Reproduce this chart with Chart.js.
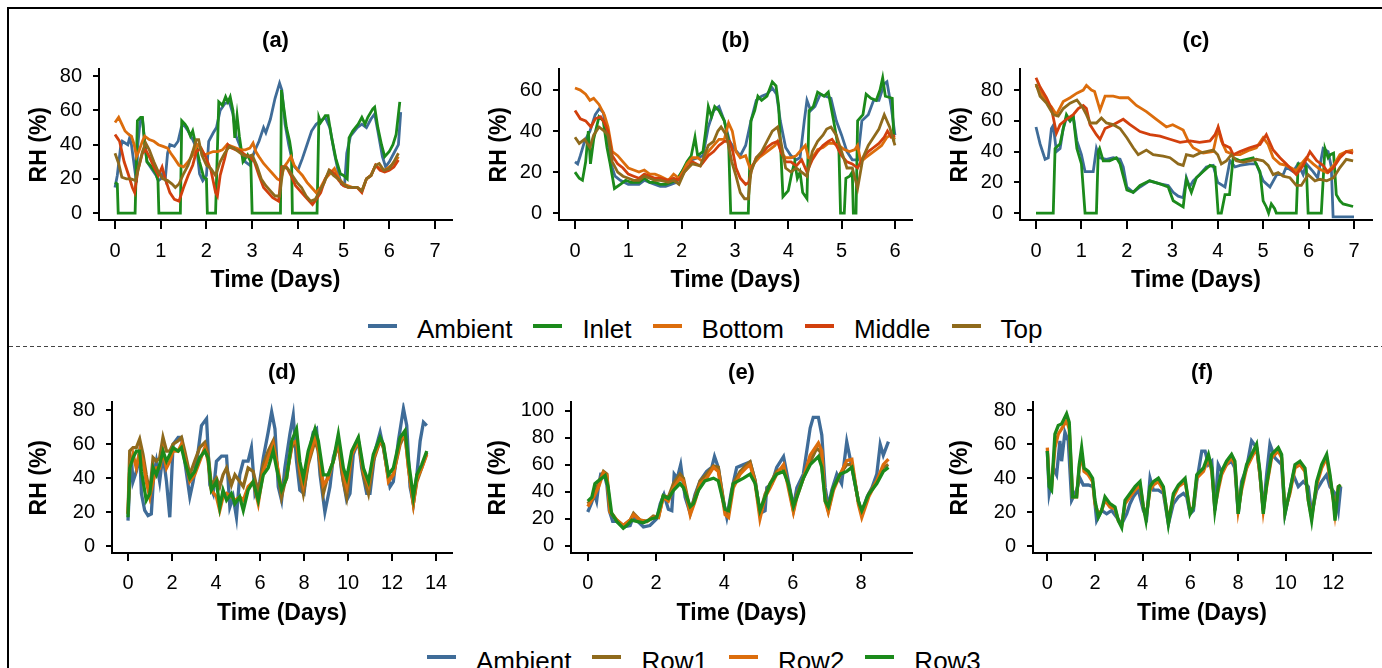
<!DOCTYPE html>
<html>
<head>
<meta charset="utf-8">
<script src="https://cdn.jsdelivr.net/npm/chart.js@4.4.1/dist/chart.umd.min.js"></script>
<style>
  html, body { margin: 0; padding: 0; background: #fff; overflow: hidden; }
  body { width: 1382px; height: 668px; position: relative; font-family: "Liberation Sans", Arial, sans-serif; }
  .frame { position: absolute; left: 7px; top: 7px; width: 1400px; height: 700px; border-left: 2px solid #000; border-top: 2px solid #000; }
  .sep { position: absolute; left: 9px; top: 346px; width: 1373px; height: 1px;
         background: repeating-linear-gradient(to right, #444 0 4px, transparent 4px 7px); }
  .panel { position: absolute; }
  .legend { position: absolute; display: flex; align-items: center; height: 30px; line-height: 30px; font-size: 26px; color: #000; white-space: nowrap; }
  .legend .item { display: flex; align-items: center; margin-right: 21px; }
  .legend .swatch { display: inline-block; width: 29px; height: 4px; margin-right: 20px; position: relative; }
</style>
</head>
<body>
<div class="frame"></div>
<div class="sep"></div>
<div class="panel" id="pa"><canvas></canvas></div>
<div class="panel" id="pb"><canvas></canvas></div>
<div class="panel" id="pc"><canvas></canvas></div>
<div class="panel" id="pd"><canvas></canvas></div>
<div class="panel" id="pe"><canvas></canvas></div>
<div class="panel" id="pf"><canvas></canvas></div>
<div class="legend" id="legendTop"></div>
<div class="legend" id="legendBottom"></div>

<script>
// serienamn
const topNames = ["Ambient", "Inlet", "Bottom", "Middle", "Top"];
const bottomNames = ["Ambient", "Row1", "Row2", "Row3"];

// axelmarkeringar
const xTicksA = [0, 1, 2, 3, 4, 5, 6, 7];
const yTicksA = [0, 20, 40, 60, 80];
const xTicksB = [0, 1, 2, 3, 4, 5, 6];
const yTicksB = [0, 20, 40, 60];
const xTicksC = [0, 1, 2, 3, 4, 5, 6, 7];
const yTicksC = [0, 20, 40, 60, 80];
const xTicksD = [0, 2, 4, 6, 8, 10, 12, 14];
const yTicksD = [0, 20, 40, 60, 80];
const xTicksE = [0, 2, 4, 6, 8];
const yTicksE = [0, 20, 40, 60, 80, 100];
const xTicksF = [0, 2, 4, 6, 8, 10, 12];
const yTicksF = [0, 20, 40, 60, 80];

// (a) [dag, RH]
const aAmbient = [[0,15],[0.05,22],[0.12,38],[0.16,42],[0.22,41],[0.28,40],[0.32,44],[0.36,40],[0.42,28],[0.47,18],[0.5,40],[0.55,54],[0.6,55],[0.65,42],[0.7,30],[0.8,26],[0.9,22],[0.95,19],[1.0,20],[1.05,24],[1.1,20],[1.15,35],[1.2,40],[1.3,39],[1.38,42],[1.45,50],[1.5,52],[1.6,48],[1.7,43],[1.75,40],[1.8,35],[1.85,23],[1.92,19],[2.0,22],[2.05,42],[2.15,47],[2.22,50],[2.3,60],[2.4,64],[2.5,65],[2.58,58],[2.65,45],[2.75,38],[2.85,30],[2.95,28],[3.05,36],[3.15,42],[3.25,50],[3.3,47],[3.4,55],[3.5,67],[3.6,76],[3.65,72],[3.72,52],[3.8,40],[3.9,28],[4.0,25],[4.1,32],[4.2,40],[4.3,48],[4.4,52],[4.5,54],[4.6,56],[4.7,50],[4.8,35],[4.9,22],[4.95,17],[5.02,16],[5.07,35],[5.15,45],[5.3,50],[5.4,52],[5.5,50],[5.6,55],[5.68,58],[5.75,48],[5.85,33],[5.92,27],[6.0,30],[6.1,35],[6.2,40],[6.25,59]];
const aInlet = [[0,18],[0.05,17],[0.07,0],[0.44,0],[0.49,54],[0.56,56],[0.6,56],[0.65,40],[0.7,30],[0.8,27],[0.9,23],[0.94,19],[0.96,0],[1.43,0],[1.46,54],[1.53,52],[1.58,50],[1.65,45],[1.7,48],[1.75,42],[1.85,30],[1.94,21],[2.0,20],[2.02,0],[2.2,0],[2.27,65],[2.35,63],[2.42,68],[2.47,65],[2.52,68],[2.58,60],[2.62,44],[2.67,57],[2.72,45],[2.8,30],[2.9,34],[2.97,30],[3.0,0],[3.62,0],[3.64,72],[3.7,60],[3.75,50],[3.82,42],[3.86,35],[3.88,0],[4.42,0],[4.46,56],[4.5,53],[4.6,57],[4.66,57],[4.74,44],[4.83,32],[4.93,23],[5.0,22],[5.08,20],[5.12,44],[5.2,48],[5.32,52],[5.4,56],[5.47,52],[5.53,56],[5.64,61],[5.68,62],[5.75,50],[5.83,40],[5.9,33],[6.0,36],[6.08,40],[6.15,46],[6.23,65]];
const aBottom = [[0,53],[0.08,56],[0.15,52],[0.22,48],[0.3,46],[0.36,45],[0.42,40],[0.47,33],[0.52,36],[0.6,42],[0.65,45],[0.75,43],[0.85,42],[0.95,40],[1.05,39],[1.15,38],[1.22,35],[1.3,32],[1.4,28],[1.5,27],[1.6,30],[1.7,34],[1.8,40],[1.88,38],[1.95,34],[2.05,35],[2.15,36],[2.25,36],[2.35,37],[2.45,40],[2.55,39],[2.65,38],[2.75,37],[2.85,37],[2.95,38],[3.02,41],[3.08,36],[3.15,33],[3.25,29],[3.35,26],[3.45,23],[3.55,20],[3.62,19],[3.7,27],[3.78,30],[3.85,33],[3.92,28],[4.0,25],[4.1,22],[4.2,18],[4.3,15],[4.4,12],[4.5,15],[4.6,20],[4.7,23],[4.8,26],[4.9,20],[5.0,17],[5.1,16],[5.2,15],[5.3,15],[5.4,13],[5.5,20],[5.6,22],[5.7,28],[5.8,26],[5.9,25],[6.0,27],[6.1,29],[6.2,33]];
const aMiddle = [[0,46],[0.05,44],[0.1,42],[0.2,30],[0.3,22],[0.38,15],[0.43,12],[0.5,25],[0.6,35],[0.67,37],[0.75,33],[0.85,27],[0.95,22],[1.03,27],[1.1,20],[1.2,12],[1.3,8],[1.4,7],[1.5,15],[1.6,22],[1.7,28],[1.78,36],[1.88,38],[1.98,33],[2.1,25],[2.2,12],[2.24,10],[2.3,22],[2.4,32],[2.47,40],[2.55,38],[2.65,37],[2.75,36],[2.85,34],[2.95,33],[3.05,30],[3.15,22],[3.25,15],[3.35,12],[3.45,9],[3.58,7],[3.65,27],[3.75,27],[3.85,22],[3.95,16],[4.05,13],[4.15,10],[4.25,7],[4.32,5],[4.4,8],[4.5,12],[4.6,20],[4.7,25],[4.8,23],[4.9,19],[5.0,16],[5.1,15],[5.2,15],[5.3,15],[5.4,12],[5.5,20],[5.6,22],[5.7,28],[5.8,25],[5.9,24],[6.0,25],[6.1,27],[6.2,31]];
const aTop = [[0,35],[0.08,29],[0.15,21],[0.25,20],[0.35,20],[0.45,19],[0.52,27],[0.6,36],[0.67,41],[0.75,37],[0.85,30],[0.95,24],[1.05,20],[1.15,19],[1.25,17],[1.32,15],[1.4,17],[1.5,23],[1.6,28],[1.7,36],[1.78,43],[1.83,43],[1.9,34],[2.0,28],[2.1,26],[2.2,22],[2.3,30],[2.4,35],[2.5,39],[2.6,38],[2.7,36],[2.8,34],[2.9,33],[3.0,34],[3.1,28],[3.2,20],[3.3,16],[3.4,13],[3.5,10],[3.6,10],[3.68,27],[3.78,26],[3.88,22],[3.98,18],[4.08,15],[4.18,10],[4.28,7],[4.38,8],[4.48,13],[4.58,18],[4.68,25],[4.78,22],[4.88,20],[5.0,17],[5.1,15],[5.2,15],[5.3,15],[5.4,13],[5.5,20],[5.6,22],[5.7,28],[5.78,29],[5.88,25],[6.0,26],[6.1,30],[6.2,35]];

// (b)
const bAmbient = [[0,25],[0.05,24],[0.1,28],[0.18,35],[0.28,40],[0.38,48],[0.46,51],[0.53,49],[0.6,38],[0.7,22],[0.75,18],[0.85,16],[1.0,14],[1.1,14],[1.2,14],[1.3,16],[1.4,15],[1.5,14],[1.6,13],[1.7,13],[1.8,14],[1.9,15],[2.0,20],[2.1,24],[2.2,26],[2.3,27],[2.4,28],[2.45,35],[2.5,42],[2.6,50],[2.7,52],[2.8,45],[2.9,35],[3.0,31],[3.1,28],[3.2,33],[3.3,45],[3.4,55],[3.5,57],[3.6,58],[3.7,61],[3.78,58],[3.85,45],[3.95,32],[4.05,28],[4.15,26],[4.22,27],[4.3,45],[4.35,55],[4.42,50],[4.5,52],[4.6,58],[4.7,57],[4.8,56],[4.9,45],[5.0,38],[5.1,30],[5.2,26],[5.3,26],[5.38,45],[5.5,48],[5.6,55],[5.7,55],[5.8,63],[5.85,64],[5.93,52],[6.0,38]];
const bInlet = [[0,20],[0.08,17],[0.14,16],[0.2,25],[0.25,40],[0.29,24],[0.35,36],[0.45,47],[0.53,45],[0.6,32],[0.66,24],[0.74,12],[0.85,14],[0.95,16],[1.05,15],[1.2,15],[1.3,17],[1.4,15],[1.5,15],[1.6,14],[1.7,14],[1.8,15],[1.9,16],[2.0,20],[2.1,25],[2.18,28],[2.25,37],[2.3,28],[2.4,30],[2.45,40],[2.5,52],[2.56,47],[2.62,52],[2.7,50],[2.8,45],[2.88,35],[2.92,0],[3.25,0],[3.3,45],[3.37,50],[3.43,57],[3.5,55],[3.6,57],[3.7,64],[3.77,62],[3.82,52],[3.86,30],[3.9,8],[4.0,11],[4.07,20],[4.12,25],[4.17,17],[4.22,20],[4.27,10],[4.35,7],[4.39,50],[4.47,52],[4.55,59],[4.67,57],[4.75,59],[4.85,45],[4.95,30],[4.98,0],[5.05,0],[5.08,17],[5.15,18],[5.2,20],[5.22,0],[5.27,0],[5.3,45],[5.4,48],[5.46,58],[5.55,56],[5.65,55],[5.72,60],[5.77,66],[5.82,57],[5.95,56],[5.98,35]];
const bBottom = [[0,61],[0.1,60],[0.2,58],[0.28,55],[0.35,56],[0.45,53],[0.55,48],[0.62,42],[0.7,30],[0.8,28],[0.9,25],[1.0,22],[1.1,21],[1.2,20],[1.3,21],[1.4,19],[1.5,19],[1.6,18],[1.75,16],[1.85,19],[1.95,17],[2.02,20],[2.1,24],[2.2,27],[2.3,27],[2.4,25],[2.5,30],[2.6,33],[2.7,36],[2.8,36],[2.88,44],[2.95,40],[3.02,30],[3.1,27],[3.2,28],[3.28,22],[3.35,24],[3.45,27],[3.55,29],[3.65,31],[3.75,33],[3.8,35],[3.88,29],[3.95,27],[4.05,27],[4.15,28],[4.25,31],[4.32,33],[4.38,27],[4.45,27],[4.55,31],[4.65,32],[4.75,34],[4.85,34],[4.95,33],[5.05,31],[5.15,30],[5.25,31],[5.3,33],[5.36,25],[5.45,27],[5.55,29],[5.65,31],[5.75,33],[5.85,37],[5.92,38],[6.0,36]];
const bMiddle = [[0,50],[0.1,46],[0.2,45],[0.3,42],[0.38,46],[0.48,47],[0.55,44],[0.62,40],[0.7,28],[0.8,24],[0.9,22],[1.0,19],[1.1,18],[1.2,17],[1.3,19],[1.4,18],[1.5,17],[1.6,17],[1.75,16],[1.85,17],[1.95,16],[2.05,20],[2.2,25],[2.35,23],[2.5,28],[2.6,30],[2.7,33],[2.8,35],[2.9,35],[2.96,30],[3.02,22],[3.1,17],[3.2,14],[3.26,15],[3.32,22],[3.4,27],[3.5,29],[3.6,32],[3.7,34],[3.8,35],[3.86,30],[3.95,25],[4.05,25],[4.15,23],[4.25,26],[4.35,20],[4.45,26],[4.55,30],[4.65,33],[4.75,35],[4.82,36],[4.9,33],[5.0,28],[5.1,25],[5.2,24],[5.3,22],[5.4,27],[5.5,30],[5.6,32],[5.7,34],[5.8,37],[5.86,40],[5.93,37],[6.0,38]];
const bTop = [[0,37],[0.08,34],[0.18,36],[0.28,32],[0.35,38],[0.45,42],[0.55,40],[0.62,38],[0.7,25],[0.8,20],[0.9,18],[1.0,17],[1.1,16],[1.2,16],[1.3,18],[1.4,17],[1.5,16],[1.6,16],[1.75,15],[1.85,16],[1.95,14],[2.05,20],[2.2,24],[2.35,23],[2.5,33],[2.6,35],[2.68,40],[2.74,42],[2.84,38],[2.94,25],[3.02,18],[3.1,10],[3.18,7],[3.25,7],[3.3,20],[3.4,27],[3.5,30],[3.6,35],[3.7,40],[3.8,42],[3.86,35],[3.95,22],[4.05,20],[4.15,22],[4.25,20],[4.35,18],[4.45,30],[4.55,35],[4.65,38],[4.72,41],[4.8,42],[4.9,38],[5.0,30],[5.1,22],[5.2,22],[5.3,12],[5.4,27],[5.5,33],[5.6,37],[5.7,41],[5.8,48],[5.9,42],[6.0,33]];

// (c)
const cAmbient = [[0,56],[0.09,45],[0.2,35],[0.27,36],[0.34,55],[0.38,57],[0.45,40],[0.53,42],[0.6,55],[0.67,62],[0.75,60],[0.82,63],[0.9,47],[1.0,38],[1.08,27],[1.26,27],[1.33,42],[1.4,36],[1.55,35],[1.7,36],[1.85,35],[1.92,30],[2.0,17],[2.14,13.5],[2.29,17],[2.5,21],[2.73,19],[2.91,18],[3.02,13.5],[3.13,11],[3.24,10],[3.31,23],[3.38,17],[3.46,21],[3.6,25],[3.75,30],[3.9,31],[4.0,20],[4.16,17],[4.27,34],[4.38,30],[4.49,31],[4.7,32],[4.85,32],[5.0,21],[5.15,17],[5.3,25],[5.44,25],[5.51,30],[5.66,27],[5.77,32],[5.88,25],[5.95,32],[6.1,27],[6.2,23],[6.32,42],[6.43,40],[6.5,30],[6.54,-2.5],[7.0,-2.5]];
const cInlet = [[0,0],[0.38,0],[0.42,42],[0.53,45],[0.6,55],[0.67,64],[0.75,60],[0.82,63],[0.9,42],[1.0,32],[1.08,0],[1.33,0],[1.37,40],[1.4,42],[1.48,34],[1.62,34],[1.77,36],[1.85,32],[2.0,15],[2.14,13.5],[2.29,18],[2.5,21],[2.73,19],[2.91,17],[3.02,8],[3.24,4],[3.31,22],[3.42,13.5],[3.53,23],[3.68,27],[3.83,31],[3.94,30],[4.01,0],[4.08,0],[4.16,12],[4.26,12],[4.34,36],[4.49,34],[4.78,36],[4.93,27],[5.0,8],[5.07,4],[5.12,0],[5.18,6],[5.25,3],[5.29,0],[5.73,0],[5.77,32],[5.88,32],[5.95,30],[5.99,0],[6.28,0],[6.36,42],[6.43,36],[6.48,38],[6.55,39],[6.61,12],[6.69,8],[6.76,6],[6.98,4.3]];
const cBottom = [[0,83],[0.09,79],[0.23,72.5],[0.34,69],[0.45,64],[0.6,72.5],[0.75,75],[0.9,78],[1.04,80],[1.11,83],[1.22,80],[1.29,79],[1.41,67],[1.52,76],[1.7,76],[1.85,75],[2.03,75],[2.21,70],[2.43,66],[2.65,61],[2.87,56],[3.01,57.5],[3.24,54],[3.35,47],[3.46,42.5],[3.68,39],[3.9,40],[4.01,55],[4.08,47],[4.19,40],[4.34,38],[4.49,38],[4.7,41],[4.85,42.5],[5.0,49],[5.11,44.6],[5.22,36],[5.37,32],[5.51,31],[5.73,27.5],[5.84,32],[5.95,36],[6.1,32],[6.25,28.5],[6.4,26.4],[6.55,31],[6.69,38],[6.83,40],[6.98,41]];
const cMiddle = [[0,88],[0.09,82],[0.23,75],[0.34,68],[0.45,52],[0.53,57.5],[0.67,61],[0.82,64],[0.93,68],[1.04,70],[1.11,68],[1.19,57.5],[1.33,51],[1.41,48],[1.52,55],[1.7,57.5],[1.92,61],[2.07,57.5],[2.29,53],[2.51,51],[2.73,50],[2.95,48],[3.17,46],[3.39,47],[3.6,46],[3.83,47],[3.94,51],[4.01,56],[4.12,44.6],[4.27,42.5],[4.34,38],[4.49,40],[4.7,42.5],[4.93,44.6],[5.07,51],[5.22,41],[5.37,36],[5.51,32],[5.73,25],[5.88,31],[6.03,40],[6.18,34],[6.32,31],[6.43,26.4],[6.55,29.6],[6.69,36],[6.83,40],[6.98,39]];
const cTop = [[0,84],[0.09,76],[0.23,71.5],[0.38,64],[0.49,63],[0.6,68],[0.75,71.5],[0.9,73.6],[1.04,68],[1.11,64],[1.19,58.6],[1.33,58.6],[1.44,61.8],[1.55,58.6],[1.7,57.5],[1.85,55],[2.0,49],[2.14,42.5],[2.25,38],[2.43,41],[2.58,38],[2.8,37],[2.95,36],[3.13,32],[3.24,31],[3.31,38],[3.46,37],[3.6,39],[3.75,40],[3.9,41],[4.0,38],[4.08,32],[4.19,34],[4.3,38],[4.41,34],[4.56,33],[4.7,34],[4.85,35],[5.0,34],[5.11,31],[5.22,25],[5.33,26.4],[5.44,24],[5.59,23],[5.73,18],[5.84,18],[5.99,25],[6.14,21],[6.25,22],[6.4,21],[6.55,23],[6.69,29.6],[6.83,35],[6.98,34]];

// (d)
const dAmbient = [[0,15],[0.08,38],[0.15,52],[0.23,38],[0.38,44],[0.53,56],[0.61,31],[0.76,21],[0.91,18],[1.06,19],[1.17,42],[1.29,50],[1.44,38],[1.59,54],[1.75,38],[1.9,17],[2.05,60],[2.28,64],[2.43,64],[2.58,50],[2.81,29],[2.96,38],[3.19,56],[3.34,71],[3.57,75],[3.72,36],[3.87,31],[4.02,50],[4.25,53],[4.48,53],[4.63,23],[4.78,29],[4.93,17],[5.08,42],[5.24,50],[5.46,50],[5.61,58],[5.77,31],[5.99,38],[6.15,52],[6.37,67],[6.53,79],[6.68,69],[6.83,35],[6.98,27],[7.13,46],[7.36,66],[7.51,77],[7.66,50],[7.81,33],[8.0,31],[8.19,52],[8.42,67],[8.57,69],[8.73,42],[8.95,20],[9.18,35],[9.33,52],[9.56,62],[9.71,44],[9.94,27],[10.09,31],[10.24,54],[10.47,62],[10.62,46],[10.85,31],[11.0,31],[11.23,56],[11.46,67],[11.61,58],[11.91,35],[12.06,38],[12.29,62],[12.52,81],[12.67,71],[12.82,35],[12.97,25],[13.13,42],[13.28,62],[13.43,73],[13.58,71]];
const dRow1 = [[0,19],[0.08,56],[0.23,58],[0.38,58],[0.53,63],[0.68,54],[0.83,42],[0.99,31],[1.14,52],[1.29,50],[1.44,52],[1.59,64],[1.75,56],[1.9,56],[2.05,60],[2.28,62],[2.43,64],[2.58,56],[2.81,42],[3.03,50],[3.26,58],[3.49,61],[3.64,54],[3.79,36],[4.02,40],[4.17,35],[4.32,42],[4.48,46],[4.7,36],[4.86,42],[5.08,38],[5.24,35],[5.46,46],[5.69,44],[5.92,31],[6.15,48],[6.37,56],[6.6,62],[6.75,50],[6.98,29],[7.21,42],[7.44,58],[7.66,62],[7.81,42],[7.97,31],[8.19,48],[8.5,62],[8.65,56],[8.88,31],[9.1,42],[9.33,50],[9.56,60],[9.79,38],[9.94,29],[10.17,54],[10.47,62],[10.7,42],[10.93,31],[11.15,50],[11.46,62],[11.61,58],[11.84,40],[12.06,42],[12.37,60],[12.59,66],[12.75,46],[12.97,25],[13.13,38],[13.35,46],[13.58,55]];
const dRow2 = [[0,19],[0.08,46],[0.23,54],[0.38,46],[0.53,56],[0.68,50],[0.83,38],[0.99,29],[1.14,38],[1.29,46],[1.44,46],[1.59,56],[1.75,46],[1.9,50],[2.05,56],[2.28,56],[2.43,60],[2.58,52],[2.81,38],[3.03,42],[3.26,50],[3.49,58],[3.64,50],[3.79,33],[4.02,29],[4.17,21],[4.32,29],[4.48,31],[4.7,29],[4.86,27],[5.08,29],[5.24,27],[5.46,35],[5.69,38],[5.92,25],[6.15,44],[6.37,52],[6.6,60],[6.75,50],[6.98,33],[7.21,40],[7.44,60],[7.66,62],[7.81,46],[7.97,36],[8.19,50],[8.5,64],[8.65,58],[8.88,36],[9.1,40],[9.33,50],[9.56,62],[9.79,42],[9.94,35],[10.17,54],[10.47,62],[10.7,44],[10.93,36],[11.15,52],[11.46,62],[11.61,60],[11.84,38],[12.06,42],[12.37,62],[12.59,66],[12.75,46],[12.97,25],[13.13,40],[13.35,46],[13.58,54]];
const dRow3 = [[0,17],[0.08,46],[0.23,52],[0.38,56],[0.53,56],[0.61,44],[0.83,27],[0.99,31],[1.14,46],[1.29,42],[1.44,48],[1.59,56],[1.75,50],[1.9,54],[2.05,58],[2.28,56],[2.43,58],[2.58,50],[2.81,40],[3.03,44],[3.26,52],[3.49,56],[3.64,52],[3.79,33],[4.02,38],[4.17,23],[4.32,33],[4.48,27],[4.7,31],[4.86,25],[5.08,29],[5.24,21],[5.46,33],[5.69,38],[5.92,27],[6.15,42],[6.37,46],[6.6,56],[6.75,46],[6.98,33],[7.21,40],[7.44,62],[7.66,69],[7.81,50],[7.97,40],[8.19,56],[8.5,69],[8.65,62],[8.88,42],[9.1,42],[9.33,50],[9.56,66],[9.79,46],[9.94,40],[10.17,56],[10.47,64],[10.7,46],[10.93,38],[11.15,54],[11.46,64],[11.61,60],[11.84,42],[12.06,46],[12.37,64],[12.59,68],[12.75,50],[12.97,29],[13.13,42],[13.35,48],[13.58,56]];

// (e)
const eAmbient = [[0,25],[0.1,31],[0.2,38],[0.26,33],[0.31,43],[0.38,53],[0.48,53],[0.56,45],[0.63,26],[0.73,18],[0.85,18],[1.04,14],[1.24,15],[1.34,22],[1.43,19],[1.63,14],[1.82,15],[2.02,20],[2.12,31],[2.23,38],[2.36,27],[2.46,26],[2.53,53],[2.62,50],[2.72,60],[2.85,36],[3.0,24],[3.14,38],[3.29,48],[3.48,55],[3.63,58],[3.71,66],[3.82,58],[3.97,33],[4.07,21],[4.21,41],[4.36,58],[4.56,60],[4.75,62],[4.9,48],[5.04,24],[5.19,26],[5.24,43],[5.39,46],[5.53,58],[5.73,66],[5.87,48],[6.02,29],[6.12,43],[6.31,53],[6.51,87],[6.6,95],[6.75,95],[6.85,82],[6.95,43],[7.04,29],[7.14,41],[7.29,53],[7.43,46],[7.58,77],[7.73,58],[7.92,33],[8.02,24],[8.17,36],[8.32,43],[8.46,53],[8.56,75],[8.65,67],[8.8,77]];
const eRow1 = [[0,31],[0.17,36],[0.31,46],[0.46,55],[0.56,53],[0.65,26],[0.85,19],[1.04,15],[1.24,19],[1.34,24],[1.53,19],[1.73,18],[1.92,22],[2.07,21],[2.21,37],[2.36,36],[2.51,46],[2.7,53],[2.8,50],[3.0,26],[3.14,36],[3.29,48],[3.48,53],[3.68,59],[3.82,58],[4.02,26],[4.12,24],[4.26,46],[4.46,55],[4.65,60],[4.75,62],[4.9,48],[5.04,24],[5.19,38],[5.34,46],[5.53,55],[5.73,58],[5.87,46],[6.02,26],[6.12,38],[6.31,50],[6.51,62],[6.7,72],[6.8,70],[6.95,36],[7.04,26],[7.19,43],[7.39,53],[7.58,60],[7.73,60],[7.92,33],[8.02,24],[8.22,38],[8.46,48],[8.65,58],[8.8,60]];
const eRow2 = [[0,29],[0.17,36],[0.31,43],[0.46,54],[0.56,52],[0.65,25],[0.85,19],[1.04,15],[1.24,19],[1.34,23],[1.53,19],[1.73,18],[1.92,21],[2.07,21],[2.21,36],[2.36,33],[2.51,43],[2.7,50],[2.8,48],[3.0,23],[3.14,33],[3.29,46],[3.48,50],[3.68,58],[3.82,55],[4.02,23],[4.12,21],[4.26,43],[4.46,53],[4.65,58],[4.75,60],[4.9,46],[5.04,20],[5.19,36],[5.34,43],[5.53,53],[5.73,60],[5.87,43],[6.02,25],[6.12,36],[6.31,50],[6.51,67],[6.75,76],[6.85,70],[6.95,33],[7.04,25],[7.19,41],[7.39,53],[7.58,63],[7.73,64],[7.92,31],[8.02,21],[8.22,36],[8.46,48],[8.65,60],[8.8,64]];
const eRow3 = [[0,33],[0.12,36],[0.21,46],[0.31,48],[0.41,50],[0.51,52],[0.6,43],[0.7,24],[0.85,18],[1.04,13],[1.14,15],[1.29,19],[1.43,18],[1.63,17],[1.87,20],[2.02,21],[2.12,29],[2.21,37],[2.36,35],[2.51,41],[2.7,46],[2.8,43],[3.0,29],[3.09,31],[3.24,41],[3.43,48],[3.68,50],[3.82,48],[4.02,27],[4.12,26],[4.26,46],[4.56,50],[4.75,53],[4.9,46],[5.04,26],[5.19,36],[5.34,46],[5.53,53],[5.73,55],[5.87,46],[6.02,29],[6.12,36],[6.31,50],[6.51,60],[6.75,66],[6.85,58],[6.95,33],[7.04,29],[7.19,43],[7.39,53],[7.58,55],[7.73,58],[7.92,33],[8.02,26],[8.22,38],[8.46,46],[8.65,55],[8.8,58]];

// (f)
const fAmbient = [[0,56],[0.08,31],[0.18,38],[0.25,46],[0.39,42],[0.53,62],[0.6,50],[0.74,67],[0.88,62],[1.02,27],[1.23,33],[1.37,40],[1.51,36],[1.72,36],[1.93,35],[2.07,15],[2.28,21],[2.49,19],[2.7,21],[2.91,17],[3.12,13],[3.33,19],[3.47,25],[3.61,29],[3.82,33],[4.03,21],[4.17,17],[4.31,40],[4.45,33],[4.66,33],[4.87,31],[5.08,13],[5.29,25],[5.5,29],[5.71,31],[5.85,29],[5.99,19],[6.13,21],[6.27,38],[6.48,56],[6.62,56],[6.76,48],[6.9,50],[7.03,21],[7.17,48],[7.31,44],[7.52,48],[7.73,50],[7.87,46],[8.01,19],[8.15,38],[8.36,46],[8.57,62],[8.78,58],[8.92,42],[9.06,21],[9.2,42],[9.34,60],[9.55,52],[9.83,48],[9.97,19],[10.18,33],[10.32,42],[10.53,35],[10.74,38],[10.95,35],[11.09,19],[11.3,33],[11.51,38],[11.72,42],[11.86,35],[12.07,31],[12.21,21],[12.31,35]];
const fRow2 = [[0,58],[0.08,38],[0.18,35],[0.32,58],[0.46,66],[0.6,69],[0.81,74],[0.92,69],[1.06,29],[1.23,29],[1.34,46],[1.44,54],[1.54,44],[1.72,42],[1.9,38],[2.0,25],[2.14,19],[2.28,21],[2.42,27],[2.63,23],[2.84,22],[2.98,15],[3.12,12],[3.26,25],[3.47,29],[3.68,33],[3.89,36],[4.03,23],[4.14,17],[4.31,33],[4.45,36],[4.66,38],[4.87,33],[5.08,15],[5.29,29],[5.5,35],[5.78,38],[5.99,21],[6.13,23],[6.27,40],[6.55,44],[6.76,52],[6.9,44],[7.03,23],[7.17,33],[7.31,42],[7.52,48],[7.73,52],[7.87,48],[8.01,21],[8.15,33],[8.36,46],[8.57,52],[8.78,58],[8.92,42],[9.06,21],[9.2,35],[9.41,52],[9.69,56],[9.83,52],[9.97,21],[10.18,31],[10.39,46],[10.6,48],[10.81,44],[10.95,27],[11.09,17],[11.3,36],[11.51,46],[11.72,52],[11.86,40],[12.0,27],[12.07,19],[12.21,35],[12.31,36]];
const fRow3 = [[0,56],[0.08,35],[0.18,33],[0.32,66],[0.46,71],[0.6,72],[0.81,78],[0.92,73],[1.06,29],[1.23,29],[1.34,48],[1.44,58],[1.54,46],[1.72,44],[1.9,40],[2.0,27],[2.14,17],[2.28,21],[2.42,29],[2.63,25],[2.84,23],[2.98,15],[3.12,11],[3.26,27],[3.47,31],[3.68,35],[3.89,38],[4.03,23],[4.14,15],[4.31,35],[4.45,38],[4.66,40],[4.87,35],[5.08,13],[5.29,31],[5.5,36],[5.78,40],[5.99,19],[6.13,23],[6.27,42],[6.55,46],[6.76,54],[6.9,46],[7.03,21],[7.17,35],[7.31,44],[7.52,50],[7.73,54],[7.87,50],[8.01,19],[8.15,35],[8.36,48],[8.57,54],[8.78,60],[8.92,44],[9.06,19],[9.2,36],[9.41,54],[9.69,58],[9.83,54],[9.97,19],[10.18,33],[10.39,48],[10.6,50],[10.81,46],[10.95,27],[11.09,15],[11.3,38],[11.51,48],[11.72,54],[11.86,42],[12.0,27],[12.07,15],[12.21,35],[12.31,36]];

const FONT = '"Liberation Sans", Arial, sans-serif';
const colors = {
  Ambient: "#3f6c98", Inlet: "#1b8a1b", Bottom: "#dc6d0c", Middle: "#d2400d", Top: "#8f6a1c",
  Row1: "#8f6a1c", Row2: "#dc6d0c", Row3: "#1b8a1b",
};

Chart.defaults.font.family = FONT;
Chart.defaults.color = "#000";

// layout för varje panelrad (pixlar)
const topRow = { top: 10, height: 300, yW: 89, xH: 90, titleTop: 18, titleBottom: 15, xTitleBottom: 15.2, tickLen: 9, lw: 2.8 };
const bottomRow = { top: 350, height: 290, yW: 102, xH: 87, titleTop: 10, titleBottom: 16, xTitleBottom: 12.2, tickLen: 8, lw: 3.3 };

const panels = [
  { id: "pa", title: "(a)", row: topRow, left: 10, width: 450, xMin: -0.35, xMax: 7.372, yMin: -4.03, yMax: 84.03,
    xTicks: xTicksA, yTicks: yTicksA, names: topNames, series: [aAmbient, aInlet, aBottom, aMiddle, aTop] },
  { id: "pb", title: "(b)", row: topRow, left: 470, width: 450, xMin: -0.3, xMax: 6.32, yMin: -3.36, yMax: 70.08,
    xTicks: xTicksB, yTicks: yTicksB, names: topNames, series: [bAmbient, bInlet, bBottom, bMiddle, bTop] },
  { id: "pc", title: "(c)", row: topRow, left: 931, width: 449, xMin: -0.352, xMax: 7.396, yMin: -4.48, yMax: 93.44,
    xTicks: xTicksC, yTicks: yTicksC, names: topNames, series: [cAmbient, cInlet, cBottom, cMiddle, cTop] },
  { id: "pd", title: "(d)", row: bottomRow, left: 10, width: 450, xMin: -0.727, xMax: 14.727, yMin: -4.06, yMax: 84.64,
    xTicks: xTicksD, yTicks: yTicksD, names: bottomNames, series: [dAmbient, dRow1, dRow2, dRow3] },
  { id: "pe", title: "(e)", row: bottomRow, left: 469, width: 451, xMin: -0.49, xMax: 9.49, yMin: -5.3, yMax: 106,
    xTicks: xTicksE, yTicks: yTicksE, names: bottomNames, series: [eAmbient, eRow1, eRow2, eRow3] },
  { id: "pf", title: "(f)", row: bottomRow, left: 931, width: 448, xMin: -0.6, xMax: 13.58, yMin: -4.06, yMax: 84.64,
    xTicks: xTicksF, yTicks: yTicksF, names: ["Ambient", "Row2", "Row3"], series: [fAmbient, fRow2, fRow3] },
];

function renderPanel(p) {
  const box = document.getElementById(p.id);
  const r = p.row;
  box.style.left = p.left + "px";
  box.style.top = r.top + "px";
  box.style.width = p.width + "px";
  box.style.height = r.height + "px";

  const axisGrid = { drawOnChartArea: false, drawTicks: true, color: "#000", lineWidth: 2 };
  const tickFont = { size: 20, family: FONT };
  const titleFont = { size: 23, weight: "bold", family: FONT };

  return new Chart(box.querySelector("canvas"), {
    type: "line",
    data: {
      datasets: p.series.map((pts, i) => ({
        label: p.names[i],
        data: pts.map(([x, y]) => ({ x, y })),
        borderColor: colors[p.names[i]],
        borderWidth: r.lw,
        pointRadius: 0,
        fill: false,
        tension: 0,
        order: p.series.length - i,
      })),
    },
    options: {
      responsive: true,
      maintainAspectRatio: false,
      animation: false,
      layout: { padding: { left: 0, right: 8, top: 0, bottom: 0 } },
      plugins: {
        legend: { display: false },
        tooltip: { enabled: false },
        title: {
          display: true, text: p.title, color: "#000", fullSize: false,
          font: { size: 22, weight: "bold", family: FONT },
          padding: { top: r.titleTop, bottom: r.titleBottom },
        },
      },
      scales: {
        x: {
          type: "linear", min: p.xMin, max: p.xMax, bounds: "data",
          border: { color: "#000", width: 2 },
          grid: { ...axisGrid, tickLength: r.tickLen },
          ticks: { font: tickFont, color: "#000", padding: 10, maxRotation: 0, autoSkip: false },
          afterBuildTicks: (s) => { s.ticks = p.xTicks.map((v) => ({ value: v })); },
          afterFit: (s) => { s.height = r.xH; },
          title: { display: true, text: "Time (Days)", color: "#000", font: titleFont, padding: { top: 0, bottom: r.xTitleBottom } },
        },
        y: {
          type: "linear", min: p.yMin, max: p.yMax, bounds: "data",
          border: { color: "#000", width: 2 },
          grid: { ...axisGrid, tickLength: 6 },
          ticks: { font: tickFont, color: "#000", padding: 11, autoSkip: false },
          afterBuildTicks: (s) => { s.ticks = p.yTicks.map((v) => ({ value: v })); },
          afterFit: (s) => { s.width = r.yW; },
          title: { display: true, text: "RH (%)", color: "#000", font: titleFont, padding: { top: 16.2, bottom: 0 } },
        },
      },
    },
  });
}

function buildLegend(el, names, left, top, lift) {
  el.style.left = left + "px";
  el.style.top = top + "px";
  names.forEach((n) => {
    const item = document.createElement("span");
    item.className = "item";
    const sw = document.createElement("span");
    sw.className = "swatch";
    sw.style.background = colors[n];
    sw.style.top = lift + "px";
    item.appendChild(sw);
    item.appendChild(document.createTextNode(n));
    el.appendChild(item);
  });
}

panels.forEach(renderPanel);
buildLegend(document.getElementById("legendTop"), topNames, 368, 314, -3);
buildLegend(document.getElementById("legendBottom"), bottomNames, 427, 646, -4);
</script>
</body>
</html>
